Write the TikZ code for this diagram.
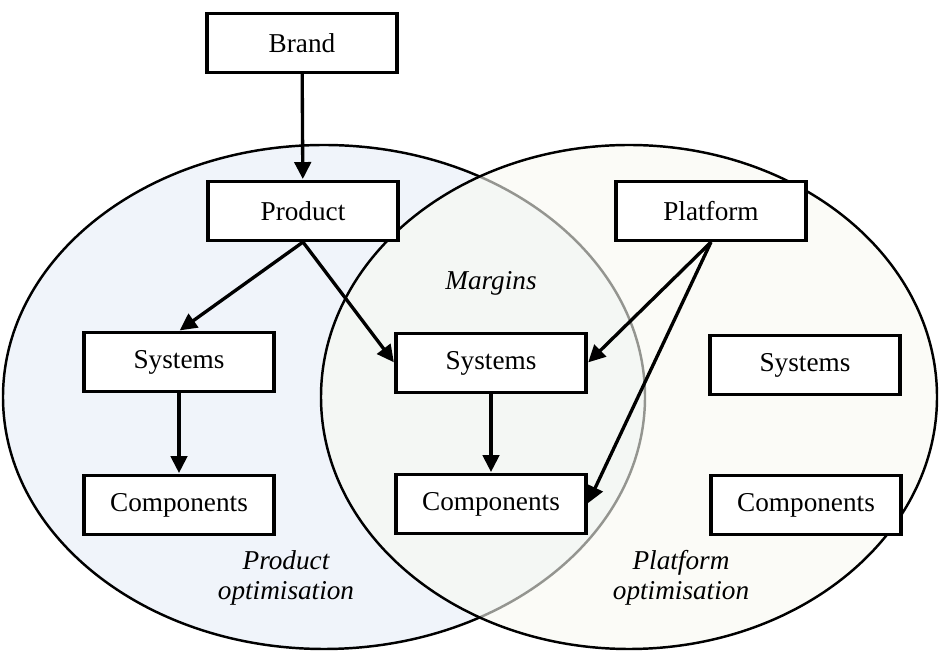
\documentclass[tikz,border=0pt]{standalone}
\usepackage{fontspec}
\setmainfont{Liberation Serif}
\usepackage{tikz}
\usepackage{xcolor}
\usetikzlibrary{arrows.meta,positioning}
\definecolor{prodfill}{RGB}{240,244,250}
\definecolor{platfill}{RGB}{248,249,241}

\begin{document}
\begin{tikzpicture}[x=0.2mm,y=-0.2mm,>=Stealth,
  box/.style={draw,line width=1.8pt,fill=white,minimum width=38mm,minimum height=11.8mm,inner sep=0pt},
  link/.style={line width=1.9pt,shorten >=0.5pt,-{Triangle[length=3.4mm,width=3.3mm]}},
  label/.style={font=\itshape,align=center}]
  \useasboundingbox (0,0) rectangle (939,651);
  \fontsize{15.5}{17}\selectfont
  % 两个椭圆
  \fill[prodfill] (324,397) ellipse [x radius=321,y radius=252];
  \draw[line width=1.4pt] (324,397) ellipse [x radius=321,y radius=252];
  \fill[platfill,fill opacity=0.6] (629,397) ellipse [x radius=308,y radius=252];
  \draw[line width=1.4pt] (629,397) ellipse [x radius=308,y radius=252];
  % 方框
  \node[box] (brand) at (302,43) {Brand};
  \node[box] (product) at (303,211) {Product};
  \node[box] (platform) at (711,211) {Platform};
  \node[box] (sysL) at (179,362) {Systems};
  \node[box] (compL) at (179,505) {Components};
  \node[box] (sysM) at (491,363) {Systems};
  \node[box] (compM) at (491,504) {Components};
  \node[box] (sysR) at (805,365) {Systems};
  \node[box] (compR) at (806,505) {Components};
  % 文字
  \node[label] (margins) at (491,283) {Margins};
  \node[label] (prodopt) at (286,578) {Product\\optimisation};
  \node[label] (platopt) at (681,578) {Platform\\optimisation};
  % 箭头
  \draw[link] (brand) -- (product);
  \draw[link] (product.south) -- (sysL.north);
  \draw[link] (product.south) -- (sysM.west);
  \draw[link] (platform.south) -- (sysM.east);
  \draw[link] (platform.south) -- (compM.east);
  \draw[link] (sysL.south) -- (compL.north);
  \draw[link] (sysM.south) -- (compM.north);
\end{tikzpicture}
\end{document}
